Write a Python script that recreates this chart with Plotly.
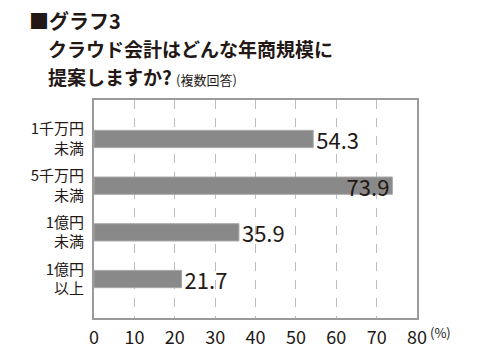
import plotly.graph_objects as go

# Survey data: revenue size bands proposed for cloud accounting (multiple answers, %)
categories = ["1千万円<br>未満", "5千万円<br>未満", "1億円<br>未満", "1億円<br>以上"]
values = [54.3, 73.9, 35.9, 21.7]
label_positions = ["outside", "inside", "outside", "outside"]
x_ticks = [0, 10, 20, 30, 40, 50, 60, 70, 80]

W, H = 480, 350
L, R, T, B = 94, 63, 100, 32
FONT = "Noto Sans CJK JP, Noto Sans, sans-serif"
INK = "#231815"


def px_x(px):
    return (px - L) / (W - L - R)


def px_y(py):
    return (H - B - py) / (H - T - B)


fig = go.Figure(
    go.Bar(
        y=categories,
        x=values,
        orientation="h",
        width=0.37,
        marker=dict(color="#898989", line=dict(color="#a8a8a8", width=1)),
        text=[f"{v:.1f}" for v in values],
        textposition=label_positions,
        insidetextanchor="end",
        constraintext="none",
        cliponaxis=False,
        textfont=dict(family=FONT, size=22, color=INK),
        insidetextfont=dict(family=FONT, size=22, color=INK),
        outsidetextfont=dict(family=FONT, size=22, color=INK),
        hoverinfo="skip",
    )
)

fig.update_layout(
    width=W,
    height=H,
    margin=dict(l=L, r=R, t=T, b=B),
    paper_bgcolor="white",
    plot_bgcolor="white",
    showlegend=False,
    font=dict(family=FONT, color=INK),
)

fig.update_xaxes(
    range=[0, 80],
    tickvals=x_ticks,
    ticktext=[str(t) for t in x_ticks],
    tickfont=dict(size=18, color=INK),
    showgrid=True,
    gridcolor="#bdbdbd",
    griddash="dash",
    gridwidth=1,
    showline=True,
    linecolor="#9a9a9a",
    linewidth=2,
    mirror=True,
    zeroline=False,
    ticks="",
    ticklabelstandoff=2,
    automargin=False,
)

fig.update_yaxes(
    type="category",
    categoryorder="array",
    categoryarray=categories,
    autorange=False,
    range=[3.835, -0.835],
    tickfont=dict(size=15, color=INK),
    showline=True,
    linecolor="#9a9a9a",
    linewidth=2,
    mirror=True,
    showgrid=False,
    ticks="",
    ticklabelstandoff=5,
    automargin=False,
)

# Heading lines above the plot
annotations = [
    dict(text="■グラフ3", x=px_x(27), y=px_y(20), size=20),
    dict(text="クラウド会計はどんな年商規模に", x=px_x(46), y=px_y(49), size=19),
    dict(
        text="提案しますか? <span style='font-size:13px;font-weight:400'>(複数回答)</span>",
        x=px_x(46),
        y=px_y(76),
        size=19,
    ),
    dict(text="(%)", x=px_x(428), y=px_y(332), size=13),
]
for a in annotations:
    fig.add_annotation(
        text=a["text"],
        xref="paper",
        yref="paper",
        x=a["x"],
        y=a["y"],
        xanchor="left",
        yanchor="middle",
        showarrow=False,
        font=dict(family=FONT, size=a["size"], color=INK,
                  weight=400 if a["size"] < 15 else 600),
    )

fig.write_html("out.html")
